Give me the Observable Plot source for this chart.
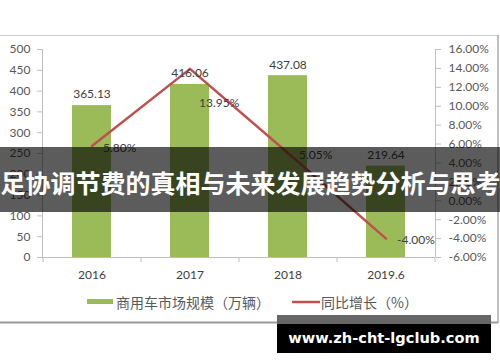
<!DOCTYPE html>
<html>
<head>
<meta charset="utf-8">
<script src="https://cdn.jsdelivr.net/npm/d3@7"></script>
<script src="https://cdn.jsdelivr.net/npm/@observablehq/plot@0.6"></script>
<style>
  html, body { margin: 0; padding: 0; background: #fff; }
  #chart { width: 500px; height: 362px; overflow: hidden; }
  svg { display: block; }
</style>
</head>
<body>
<div id="chart"></div>
<script>
// ---- data ----
const categories = ["2016", "2017", "2018", "2019.6"];
const marketSize = [365.13, 416.06, 437.08, 219.64];   // 商用车市场规模（万辆）
const growthPct  = [5.80, 13.95, 5.05, -4.00];         // 同比增长（%）
const leftTicks  = [0, 50, 100, 150, 200, 250, 300, 350, 400, 450, 500];
const rightTicks = [-6, -4, -2, 0, 2, 4, 6, 8, 10, 12, 14, 16];
const seriesNames = ["商用车市场规模（万辆）", "同比增长（%）"];
const bannerText = "足协调节费的真相与未来发展趋势分析与思考";
const watermarkText = "www.zh-cht-lgclub.com";

const rows = categories.map((c, i) => ({cat: c, v: marketSize[i], g: growthPct[i]}));

// secondary axis mapping: [-6, 16] % -> [0, 500]
const pMin = -6, pMax = 16, yMax = 500;
const pctToY = p => (p - pMin) / (pMax - pMin) * yMax;
const yToPct = y => y / yMax * (pMax - pMin) + pMin;
const fmtPct = v => { const p = Math.round(yToPct(v) * 100) / 100; return (p === 0 ? 0 : p).toFixed(2) + "%"; };

const green = "#9BBB59", red = "#C0504D", axisGray = "#bfbfbf", textGray = "#595959";

const chart = Plot.plot({
  width: 500,
  height: 362,
  marginLeft: 42,
  marginRight: 65,
  marginTop: 49,
  marginBottom: 105,
  style: {fontFamily: "Lato, 'Noto Sans', sans-serif", fontSize: "12px", background: "white", overflow: "visible"},
  x: {domain: categories, paddingInner: 0.6, paddingOuter: 0.3},
  y: {domain: [0, yMax]},
  marks: [
    Plot.barY(rows, {x: "cat", y: "v", fill: green}),
    Plot.ruleY([0], {stroke: axisGray, strokeWidth: 1}),
    Plot.axisY(leftTicks, {anchor: "left", tickSize: 5, tickPadding: 7, stroke: axisGray, fill: textGray, fontSize: 12, label: null}),
    Plot.axisY(rightTicks.map(pctToY), {anchor: "right", tickSize: 5, tickPadding: 8, stroke: axisGray, fill: textGray, fontSize: 12, tickFormat: fmtPct, label: null}),
    Plot.axisX({tickSize: 0, tickPadding: 13, fill: "#404040", fontSize: 12, label: null}),
    Plot.line(rows, {x: "cat", y: d => pctToY(d.g), stroke: red, strokeWidth: 2.5}),
    Plot.text(rows, {x: "cat", y: "v", text: d => d.v.toFixed(2), dy: -11, fill: "#404040", fontSize: 12}),
    Plot.text(rows.filter(d => d.cat !== "2017"), {x: "cat", y: d => pctToY(d.g), text: d => d.g.toFixed(2) + "%", textAnchor: "start", dx: 11, dy: 2, fill: "#404040", fontSize: 12}),
    Plot.text(rows.filter(d => d.cat === "2017"), {x: "cat", y: d => pctToY(d.g), text: d => d.g.toFixed(2) + "%", textAnchor: "start", dx: 9, dy: 34, fill: "#404040", fontSize: 12})
  ]
});

document.getElementById("chart").appendChild(chart);

// ---- axis lines & category boundary ticks from the library's scales ----
const svg = d3.select(chart);
const xs = chart.scale("x"), ys = chart.scale("y");
const [x0, x1] = xs.range;
const yTop = ys.apply(yMax), yBot = ys.apply(0);
const g = svg.append("g").attr("stroke", axisGray).attr("stroke-width", 1);
g.append("line").attr("x1", x0 + 0.5).attr("x2", x0 + 0.5).attr("y1", yTop).attr("y2", yBot);
g.append("line").attr("x1", x1 + 0.5).attr("x2", x1 + 0.5).attr("y1", yTop).attr("y2", yBot);
const gap = (xs.step - xs.bandwidth) / 2;
const bounds = categories.map(c => xs.apply(c) - gap).concat([xs.apply(categories[categories.length - 1]) + xs.bandwidth + gap]);
bounds.forEach(b => g.append("line").attr("x1", b + 0.5).attr("x2", b + 0.5).attr("y1", yBot).attr("y2", yBot + 5));

// ---- chart-area border ----
svg.append("line").attr("x1", 0).attr("x2", 498).attr("y1", 35.5).attr("y2", 35.5).attr("stroke", "#cccccc");
svg.append("line").attr("x1", 498).attr("x2", 498).attr("y1", 35).attr("y2", 323).attr("stroke", "#aaaaaa").attr("stroke-width", 1.5);
svg.append("line").attr("x1", 0).attr("x2", 498).attr("y1", 322.5).attr("y2", 322.5).attr("stroke", "#999999").attr("stroke-width", 2);

// ---- legend ----
const lg = svg.append("g").attr("font-family", "'Noto Sans CJK SC', sans-serif").attr("font-size", 14).attr("fill", textGray).attr("text-anchor", "start");
lg.append("rect").attr("x", 87).attr("y", 299).attr("width", 26).attr("height", 5).attr("fill", green);
lg.append("text").attr("x", 116).attr("y", 302).attr("text-anchor", "start").attr("dominant-baseline", "central").text(seriesNames[0]);
lg.append("line").attr("x1", 292).attr("x2", 320).attr("y1", 302).attr("y2", 302).attr("stroke", red).attr("stroke-width", 2.5);
lg.append("text").attr("x", 321).attr("y", 302).attr("text-anchor", "start").attr("dominant-baseline", "central").text(seriesNames[1]);

// ---- banner overlay ----
svg.append("rect").attr("x", 0).attr("y", 147).attr("width", 500).attr("height", 65).attr("fill", "rgba(0,0,0,0.64)");
svg.append("text").attr("x", 250.5).attr("y", 181.5).attr("text-anchor", "middle").attr("dominant-baseline", "central")
  .attr("font-family", "'Noto Sans CJK SC', sans-serif").attr("font-weight", "bold").attr("font-size", 25)
  .attr("fill", "#ffffff").text(bannerText);

// ---- watermark ----
svg.append("rect").attr("x", 277).attr("y", 315).attr("width", 214).attr("height", 9).attr("fill", "#666666");
svg.append("rect").attr("x", 277).attr("y", 324).attr("width", 214).attr("height", 29).attr("fill", "#000000");
svg.append("text").attr("x", 384).attr("y", 337).attr("text-anchor", "middle").attr("dominant-baseline", "central")
  .attr("font-family", "'DejaVu Sans', sans-serif").attr("font-weight", "bold").attr("font-size", 14.6)
  .attr("fill", "#ffffff").text(watermarkText);
</script>
</body>
</html>
